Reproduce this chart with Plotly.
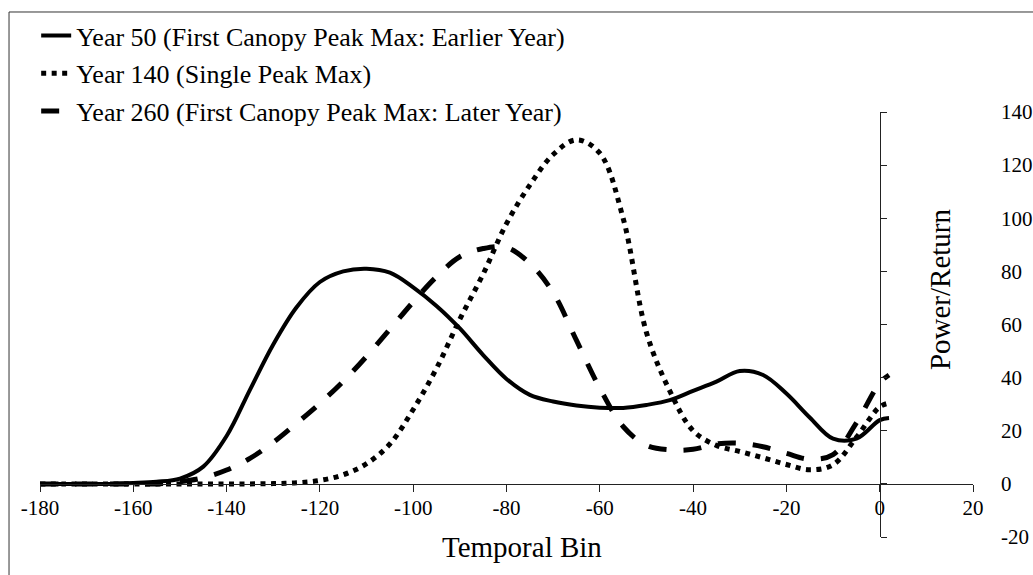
import plotly.graph_objects as go

# temporal bins (shared by all three series)
bins = [-180, -175, -170, -165, -160, -155, -150, -145, -140, -135, -130, -125,
        -120, -115, -110, -105, -100, -95, -90, -85, -80, -75, -70, -65, -60,
        -55, -50, -45, -40, -35, -30, -25, -20, -15, -10, -5, 0, 2]

year_50 = [0, 0, 0, 0, 0.3, 0.8, 2, 6.5, 18, 35.4, 52.5, 66.5,
           76, 80, 81, 79.5, 74, 67, 58.5, 48.5, 39.5, 33.5, 31, 29.5, 28.7,
           28.6, 29.7, 31.5, 35, 38.5, 42.5, 41, 34, 25, 17, 17, 24, 24.8]

year_140 = [0, 0, 0, 0, 0, 0, 0, 0, 0, 0, 0.1, 0.4,
            1.3, 3.4, 7.6, 15, 28, 43.5, 62, 79, 98, 112.5, 124, 129.5, 124.5,
            100, 57, 35, 20, 14.5, 12.2, 9.8, 7.3, 5.3, 7.2, 17.5, 29, 30.4]

year_260 = [0, 0, 0, 0, 0, 0, 0.8, 2.3, 5.2, 9.6, 15.6, 22.8,
            30.3, 38.6, 48, 58.2, 68.5, 78, 85.5, 88.6, 89, 83, 72, 54, 36,
            21.6, 14.5, 12.8, 13, 15, 15.3, 14, 11.5, 9.3, 11, 23, 38, 41]

series_names = [
    "Year 50 (First Canopy Peak Max: Earlier Year)",
    "Year 140 (Single Peak Max)",
    "Year 260 (First Canopy Peak Max: Later Year)",
]

x_ticks = [-180, -160, -140, -120, -100, -80, -60, -40, -20, 0, 20]
y_ticks = [-20, 0, 20, 40, 60, 80, 100, 120, 140]

FONT = "Liberation Serif"

fig = go.Figure()

fig.add_trace(go.Scatter(x=bins, y=year_50, name=series_names[0], mode="lines",
                         legendgroup="a",
                         line=dict(color="black", width=4, shape="spline")))
fig.add_trace(go.Scatter(x=bins, y=year_140, name=series_names[1], mode="lines",
                         legendgroup="b",
                         line=dict(color="black", width=5, shape="spline",
                                   dash="5px,5.5px")))
fig.add_trace(go.Scatter(x=bins, y=year_260, name=series_names[2], mode="lines",
                         legendgroup="c",
                         line=dict(color="black", width=5, shape="spline",
                                   dash="18px,17px")))

fig.update_layout(
    width=1033,
    height=575,
    margin=dict(l=40, r=60, t=112, b=38, autoexpand=False),
    paper_bgcolor="white",
    plot_bgcolor="white",
    font=dict(family=FONT, size=21, color="black"),
    showlegend=True,
    legend=dict(x=-0.0041, y=1.2353, xanchor="left", yanchor="top",
                font=dict(size=26), bgcolor="rgba(0,0,0,0)",
                tracegroupgap=1),
)

# x axis crosses at y = 0
fig.update_xaxes(
    range=[-180, 20], tickvals=x_ticks, ticktext=[str(v) for v in x_ticks],
    anchor="free", position=0.125,
    showline=True, linecolor="#222", linewidth=1,
    ticks="outside", ticklen=7, tickcolor="#222",
    ticklabelstandoff=-2,
    showgrid=False, zeroline=False, automargin=False,
)

# y axis crosses at x = 0, labels pushed out to the right edge
fig.update_yaxes(
    range=[-20, 140], tickvals=y_ticks, ticktext=[str(v) for v in y_ticks],
    anchor="free", position=0.9, side="right",
    showline=True, linecolor="#222", linewidth=1,
    ticks="outside", ticklen=6, tickcolor="#222",
    ticklabelstandoff=110,
    showgrid=False, zeroline=False, automargin=False,
)

fig.add_annotation(text="Temporal Bin", xref="paper", yref="paper",
                   x=0.5164, y=-0.0238, xanchor="center", yanchor="middle",
                   showarrow=False, font=dict(size=29))
fig.add_annotation(text="Power/Return", xref="paper", yref="paper",
                   x=0.9646, y=0.5832, xanchor="center", yanchor="middle",
                   textangle=-90, showarrow=False, font=dict(size=29))

# chart frame
fig.add_shape(type="rect", xref="paper", yref="paper",
              x0=-0.0332, x1=1.1, y0=-0.2, y1=1.2353,
              line=dict(color="#333", width=1), layer="below")

# drop the default 8px body margin so the figure fills the window exactly
fig.write_html("out.html", config={"displayModeBar": False},
               post_script="document.body.style.margin='0';")
